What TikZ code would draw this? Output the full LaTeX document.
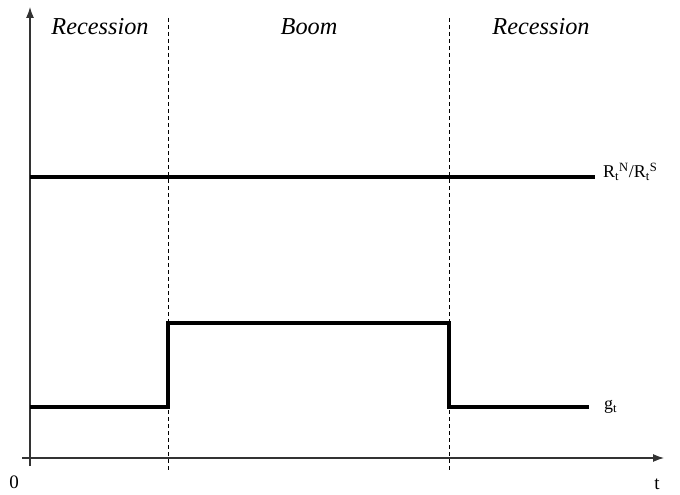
\documentclass[tikz,border=0pt]{standalone}
\usepackage{fontspec}
\setmainfont{Liberation Serif}
\usetikzlibrary{arrows.meta}

\tikzset{phase/.style={font=\fontsize{24.3}{28}\selectfont\itshape},
  curvelabel/.style={font=\fontsize{18}{20}\selectfont,anchor=west,inner sep=0pt},
  axislabel/.style={font=\fontsize{19}{21}\selectfont,inner sep=0pt},
  axis/.style={draw=black!80,line width=1.2pt},
  border/.style={line width=0.8pt,dash pattern=on 4pt off 3pt},
  path/.style={line width=3.3pt}}

\begin{document}
\begin{tikzpicture}[x=1pt,y=-1pt,>={Latex[length=11pt,width=8pt]}]
\useasboundingbox (0,0) rectangle (680,495);

% axes
\coordinate(ybot) at (30,466);
\coordinate(ytop) at (30,7);
\coordinate(xleft) at (22,458);
\coordinate(xright) at (664,458);
\draw[axis,->] (ybot) -- (ytop);
\draw[axis,->] (xleft) -- (xright);
\node[axislabel](zero) at (14,482) {0};
\node[axislabel](time) at (657,484) {t};

% phase borders
\coordinate(b1top) at (168,18);
\coordinate(b1bot) at (168,470);
\coordinate(b2top) at (449,18);
\coordinate(b2bot) at (449,470);
\draw[border] (b1top) -- (b1bot);
\draw[border] (b2top) -- (b2bot);

\node[phase](rec1) at (100,27) {Recession};
\node[phase](boom) at (309,27) {Boom};
\node[phase](rec2) at (541,27) {Recession};

% rate ratio
\coordinate(r0) at (30,177);
\coordinate(r1) at (595,177);
\draw[path] (r0) -- (r1);
\node[curvelabel](rlab) at (603,172) {R\textsubscript{t}\textsuperscript{N}/R\textsubscript{t}\textsuperscript{S}};

% growth
\coordinate(g0) at (30,407);
\coordinate(g1) at (168,407);
\coordinate(g2) at (168,323);
\coordinate(g3) at (449,323);
\coordinate(g4) at (449,407);
\coordinate(g5) at (589,407);
\draw[path] (g0) -- (g1) -- (g2) -- (g3) -- (g4) -- (g5);
\node[curvelabel](glab) at (604,407) {g\textsubscript{t}};

\end{tikzpicture}
\end{document}
